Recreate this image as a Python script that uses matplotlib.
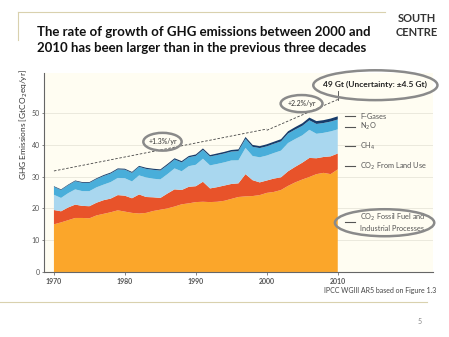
import numpy as np
import matplotlib
matplotlib.use('Agg')
import matplotlib.pyplot as plt
from matplotlib.patches import Ellipse

plt.rcParams['font.family'] = ['Lato', 'DejaVu Sans']

years = list(range(1970, 2011))
ffi = [15.0, 15.6, 16.3, 17.0, 17.0, 16.9, 17.8, 18.3, 18.8, 19.4,
       19.0, 18.6, 18.4, 18.6, 19.2, 19.6, 20.0, 20.6, 21.3, 21.6,
       22.0, 22.1, 22.0, 22.1, 22.4, 23.0, 23.6, 23.8, 23.9, 24.2,
       24.9, 25.2, 25.8, 27.1, 28.2, 29.1, 29.9, 30.8, 31.2, 30.8, 32.3]
folu = [4.5, 3.5, 4.0, 4.2, 3.8, 3.8, 4.0, 4.3, 4.3, 4.8,
        5.0, 4.6, 6.0, 5.0, 4.3, 3.7, 4.7, 5.4, 4.5, 5.2,
        5.0, 6.3, 4.3, 4.6, 4.8, 4.7, 4.3, 7.0, 5.0, 4.0,
        3.9, 4.2, 4.0, 4.6, 4.9, 5.3, 6.0, 5.0, 5.0, 5.6, 5.0]
ch4 = [4.8, 4.2, 4.5, 4.8, 4.65, 4.75, 4.85, 4.9, 5.2, 5.4,
       5.5, 5.3, 6.0, 6.15, 5.85, 5.85, 6.1, 6.6, 5.9, 6.5,
       6.75, 7.25, 7.25, 7.3, 7.3, 7.4, 7.25, 8.25, 7.6, 7.9,
       7.85, 8.05, 8.4, 8.9, 8.75, 8.6, 8.85, 7.7, 7.6, 7.85, 7.6]
n2o = [2.5, 2.5, 2.5, 2.6, 2.6, 2.6, 2.6, 2.7, 2.7, 2.7,
       2.7, 2.7, 2.7, 2.7, 2.8, 2.8, 2.8, 2.8, 2.8, 2.8,
       2.8, 2.8, 2.8, 2.8, 2.8, 2.8, 2.9, 2.9, 2.9, 2.9,
       2.9, 2.9, 2.9, 3.0, 3.0, 3.0, 3.0, 3.1, 3.1, 3.1, 3.1]
fgas = [0.2, 0.2, 0.2, 0.2, 0.25, 0.25, 0.25, 0.3, 0.3, 0.3,
        0.3, 0.3, 0.3, 0.35, 0.35, 0.35, 0.4, 0.4, 0.4, 0.4,
        0.45, 0.45, 0.45, 0.5, 0.5, 0.5, 0.55, 0.55, 0.6, 0.6,
        0.65, 0.65, 0.7, 0.7, 0.75, 0.8, 0.85, 0.9, 0.9, 0.95, 1.0]

colors = ['#FBA62A', '#E8532A', '#A9D7EF', '#49AEDA', '#163C6B']
labels = ['F-Gases', 'N$_2$O', 'CH$_4$', 'CO$_2$ From Land Use',
          'CO$_2$ Fossil Fuel and\nIndustrial Processes']
label_y = [49, 45.7, 39.6, 33.3, 15.7]

# trend lines (year, Gt)
trend1_x = [1970, 2000]
trend1_y = [31.8, 45.0]
trend2_x = [2000, 2010]
trend2_y = [44.6, 54.3]

fig = plt.figure(figsize=(4.49, 3.37), dpi=100)
ax = fig.add_axes([0.098, 0.193, 0.866, 0.59])
ax.set_facecolor('#FFFDF2')

ax.stackplot(years, ffi, folu, ch4, n2o, fgas, colors=colors, lw=0, zorder=2)
ax.set_xlim(1968.6, 2023.4)
ax.set_ylim(0, 62.6)
for g in [10, 20, 30, 40, 50]:
    ax.axhline(g, color='#E8E6DA', lw=0.6, zorder=1)

ax.plot(trend1_x, trend1_y, ls=(0, (3, 2)), color='#444444', lw=0.6, zorder=3)
ax.plot(trend2_x, trend2_y, ls=(0, (3, 2)), color='#444444', lw=0.6, zorder=3)

ax.set_xticks([1970, 1980, 1990, 2000, 2010])
ax.set_xticklabels(['1970', '1980', '1990', '2000', '2010'], fontsize=5, color='#333333', fontweight='bold')
ax.set_yticks([0, 10, 20, 30, 40, 50])
ax.tick_params(axis='y', labelsize=5, colors='#555555', length=1.5, width=0.5, pad=1.5)
ax.tick_params(axis='x', length=2, width=0.5, colors='#555555', pad=2)
for s in ['top', 'right']:
    ax.spines[s].set_visible(False)
ax.spines['left'].set_color('#666666')
ax.spines['bottom'].set_color('#666666')
ax.spines['left'].set_linewidth(0.8)
ax.spines['bottom'].set_linewidth(0.8)

fig.text(0.052, 0.63, 'GHG Emissions [GtCO$_2$eq/yr]', rotation=90, fontsize=6,
         ha='center', va='center', color='#333333')

# right-hand labels
for lab, y in zip(labels, label_y):
    ax.plot([2011, 2012.5], [y, y], color='#555555', lw=0.8, clip_on=False)
    ax.text(2013.2, y, lab, fontsize=5.3, color='#555555', va='center', ha='left', linespacing=1.3)

# ellipses and annotations
ax.add_patch(Ellipse((1985.3, 41.0), 5.4, 5.6, fill=False, ec='#8A8A8A', lw=1.8, zorder=4))
ax.text(1985.3, 41.0, '+1.3%/yr', fontsize=5, ha='center', va='center', color='#333333', zorder=5)
ax.add_patch(Ellipse((2004.9, 53.0), 5.9, 5.4, fill=False, ec='#8A8A8A', lw=1.8, zorder=4))
ax.text(2004.9, 53.0, '+2.2%/yr', fontsize=5, ha='center', va='center', color='#333333', zorder=5)
ax.add_patch(Ellipse((2015.3, 58.8), 17.5, 9.4, fill=False, ec='#8A8A8A', lw=1.8, zorder=4, clip_on=False))
ax.text(2015.3, 59.0, '49 Gt (Uncertainty: \u00b14.5 Gt)', fontsize=6, fontweight='bold',
        ha='center', va='center', color='#222222', zorder=5, clip_on=False)
ax.plot([2010, 2010], [54.0, 57.0], color='#444444', lw=0.6)
ax.add_patch(Ellipse((2016.6, 15.5), 14.0, 8.5, fill=False, ec='#8A8A8A', lw=1.8, zorder=4, clip_on=False))

# title and page decoration
fig.text(0.082, 0.893, 'The rate of growth of GHG emissions between 2000 and', fontsize=9.5,
         fontweight='bold', color='#111111', ha='left', va='baseline')
fig.text(0.082, 0.845, '2010 has been larger than in the previous three decades', fontsize=9.5,
         fontweight='bold', color='#111111', ha='left', va='baseline')
fig.add_artist(plt.Line2D([0.040, 0.858], [0.965, 0.965], color='#D9D1AE', lw=0.8))
fig.add_artist(plt.Line2D([0.040, 0.040], [0.965, 0.880], color='#D9D1AE', lw=0.8))
fig.add_artist(plt.Line2D([0.0, 0.951], [0.104, 0.104], color='#D9D1AE', lw=0.8))
fig.text(0.928, 0.945, 'SOUTH', fontsize=8, fontweight='bold', color='#333333', ha='center', va='center')
fig.text(0.928, 0.905, 'CENTRE', fontsize=8, fontweight='bold', color='#333333', ha='center', va='center')
fig.text(0.847, 0.138, 'IPCC WGIII AR5 based on Figure 1.3', fontsize=5, color='#444444', ha='center', va='center')
fig.text(0.935, 0.045, '5', fontsize=5, color='#888888', ha='center', va='center')

fig.savefig('out.png', dpi=100)
